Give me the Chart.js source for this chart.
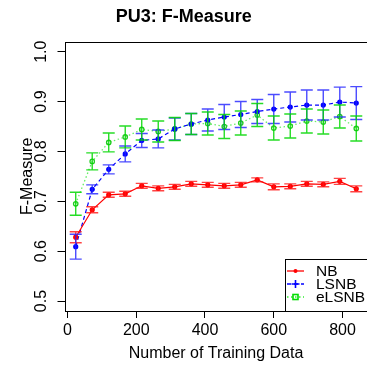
<!DOCTYPE html>
<html><head><meta charset="utf-8">
<script src="https://cdn.jsdelivr.net/npm/chart.js@4/dist/chart.umd.min.js"></script>
<style>html,body{margin:0;padding:0;overflow:hidden;background:#fff}</style>
</head><body>
<canvas id="c" width="432" height="368" style="display:block;width:432px;height:368px"></canvas>
<script>
const trainingSizes = [24,72,120,168,216,264,312,360,408,456,504,552,600,648,696,744,792,840];
const nbMean   = [0.628,0.683,0.713,0.715,0.731,0.726,0.729,0.735,0.733,0.731,0.733,0.743,0.729,0.730,0.735,0.734,0.740,0.725];
const nbErr    = [0.011,0.006,0.005,0.005,0.005,0.005,0.005,0.005,0.005,0.005,0.005,0.004,0.006,0.005,0.005,0.005,0.006,0.006];
const lsnbMean = [0.609,0.724,0.764,0.795,0.822,0.825,0.845,0.855,0.863,0.869,0.874,0.880,0.885,0.889,0.893,0.893,0.899,0.897];
const lsnbErr  = [0.025,0.009,0.009,0.016,0.014,0.018,0.022,0.021,0.022,0.025,0.026,0.024,0.029,0.030,0.030,0.030,0.030,0.033];
const elsnbMean= [0.695,0.780,0.818,0.829,0.844,0.840,0.845,0.855,0.856,0.850,0.857,0.873,0.847,0.851,0.861,0.859,0.870,0.846];
const elsnbErr = [0.023,0.017,0.019,0.022,0.021,0.021,0.023,0.021,0.023,0.024,0.024,0.023,0.024,0.024,0.024,0.024,0.023,0.025];
const seriesNames = ['NB','LSNB','eLSNB'];
const xTickValues = [0,200,400,600,800];
const xTickLabels = ['0','200','400','600','800'];
const yTickValues = [0.5,0.6,0.7,0.8,0.9,1.0];
const yTickLabels = ['0.5','0.6','0.7','0.8','0.9','1.0'];

const FAM = "'Liberation Sans', Arial, Helvetica, sans-serif";
const toPts = (m) => trainingSizes.map((x,i)=>({x:x, y:m[i]}));

const errorBarPlugin = {
  id:'errbars',
  afterDatasetsDraw(chart){
    const {ctx, scales:{x,y}} = chart;
    chart.data.datasets.forEach(ds=>{
      ctx.save();
      ctx.strokeStyle = ds.errColor; ctx.lineWidth = 1.4;
      ds.data.forEach((p,i)=>{
        const px = x.getPixelForValue(p.x);
        const t = y.getPixelForValue(p.y + ds.errors[i]);
        const b = y.getPixelForValue(p.y - ds.errors[i]);
        ctx.beginPath();
        ctx.moveTo(px,t); ctx.lineTo(px,b);
        ctx.moveTo(px-6,t); ctx.lineTo(px+6,t);
        ctx.moveTo(px-6,b); ctx.lineTo(px+6,b);
        ctx.stroke();
      });
      ctx.restore();
    });
  }
};

const framePlugin = {
  id:'frame',
  afterDraw(chart){
    const {ctx, chartArea:a, scales:{y}} = chart;
    ctx.save();
    ctx.strokeStyle='#000'; ctx.lineWidth=1;
    ctx.strokeRect(Math.round(a.left)+0.5, Math.round(a.top)+0.5, Math.round(a.right-a.left), Math.round(a.bottom-a.top));
    // y tick labels, rotated like R
    ctx.fillStyle='#000'; ctx.font = '16px ' + FAM;
    ctx.textAlign='center'; ctx.textBaseline='alphabetic';
    yTickValues.forEach((v,i)=>{
      const py = y.getPixelForValue(v);
      ctx.save(); ctx.translate(a.left-19, py); ctx.rotate(-Math.PI/2);
      ctx.fillText(yTickLabels[i], 0, 0); ctx.restore();
    });
    // legend
    const L = a.right - 83, T = a.bottom - 52;
    ctx.fillStyle='#fff'; ctx.fillRect(L, T, a.right-L, a.bottom-T);
    ctx.strokeStyle='#000'; ctx.lineWidth=1;
    ctx.strokeRect(Math.round(L)+0.5, Math.round(T)+0.5, Math.round(a.right-L)+2, Math.round(a.bottom-T));
    const rows = [T+12, T+25, T+38];
    const cols = ['#ff0000','#0000ff','#33ee33'];
    const dashes = [[],[4,3],[1.5,2.5]];
    rows.forEach((ry,i)=>{
      ctx.save();
      ctx.strokeStyle = cols[i]; ctx.lineWidth=1.3; ctx.setLineDash(dashes[i]);
      ctx.beginPath(); ctx.moveTo(L+2.5, ry); ctx.lineTo(L+19.5, ry); ctx.stroke();
      ctx.setLineDash([]);
      const cx = L+11;
      if(i===0){ ctx.fillStyle=cols[0]; ctx.beginPath(); ctx.arc(cx,ry,2,0,Math.PI*2); ctx.fill(); }
      if(i===1){ ctx.lineWidth=1.6; ctx.beginPath(); ctx.moveTo(cx-4,ry); ctx.lineTo(cx+4,ry); ctx.moveTo(cx,ry-4); ctx.lineTo(cx,ry+4); ctx.stroke(); }
      if(i===2){ ctx.strokeStyle='#00dd00'; ctx.lineWidth=1.6; ctx.strokeRect(cx-2.5,ry-2.5,5,5); }
      ctx.fillStyle='#000'; ctx.font='15.5px '+FAM; ctx.textAlign='left'; ctx.textBaseline='middle';
      ctx.fillText(seriesNames[i], L+31.5, ry+0.5);
      ctx.restore();
    });
    ctx.restore();
  }
};

new Chart(document.getElementById('c'), {
  type:'line',
  data:{ datasets:[
    {label:seriesNames[0], data:toPts(nbMean), errors:nbErr, errColor:'rgba(255,20,20,0.8)',
     borderColor:'#ff0000', borderWidth:1.2, pointRadius:2, pointBackgroundColor:'#ff0000', pointBorderColor:'#ff0000', tension:0},
    {label:seriesNames[1], data:toPts(lsnbMean), errors:lsnbErr, errColor:'rgba(30,30,255,0.8)',
     borderColor:'#0000ff', borderWidth:1.2, borderDash:[4,3], pointRadius:2, pointBackgroundColor:'#0000ff', pointBorderColor:'#0000ff', tension:0},
    {label:seriesNames[2], data:toPts(elsnbMean), errors:elsnbErr, errColor:'rgba(0,215,0,0.85)',
     borderColor:'#66ee66', borderWidth:1.3, borderDash:[1.5,2.5], pointRadius:2.2, pointBackgroundColor:'rgba(0,0,0,0)', pointBorderColor:'#22cc22', pointBorderWidth:1.3, tension:0}
  ]},
  options:{
    responsive:false, animation:false, events:[],
    layout:{padding:{left:0,right:64.5,top:0,bottom:0}},
    plugins:{
      legend:{display:false}, tooltip:{enabled:false},
      title:{display:true, text:'PU3: F-Measure', color:'#000', font:{family:FAM, size:18, weight:'bold'}, padding:{top:5.9,bottom:14.2}}
    },
    scales:{
      x:{type:'linear', min:-8.64, max:872.64,
         afterBuildTicks:s=>{ s.ticks = xTickValues.map(v=>({value:v})); },
         afterFit:s=>{ s.height = 57; },
         ticks:{color:'#000', font:{family:FAM,size:16}, padding:3, maxRotation:0, autoSkip:false,
                callback:(v)=>xTickLabels[xTickValues.indexOf(v)]},
         grid:{drawOnChartArea:false, drawTicks:true, tickLength:7, color:'#000', lineWidth:1},
         border:{display:false},
         title:{display:true, text:'Number of Training Data', color:'#000', font:{family:FAM,size:16}, padding:{top:0,bottom:4.4}}},
      y:{type:'linear', min:0.48, max:1.02,
         afterBuildTicks:s=>{ s.ticks = yTickValues.map(v=>({value:v})); },
         afterFit:s=>{ s.width = 64.5; },
         ticks:{display:false},
         grid:{drawOnChartArea:false, drawTicks:true, tickLength:7, color:'#000', lineWidth:1},
         border:{display:false},
         title:{display:true, text:'F-Measure', color:'#000', font:{family:FAM,size:16}, padding:{top:17.9,bottom:0}}}
    }
  },
  plugins:[errorBarPlugin, framePlugin]
});
</script>
</body></html>
